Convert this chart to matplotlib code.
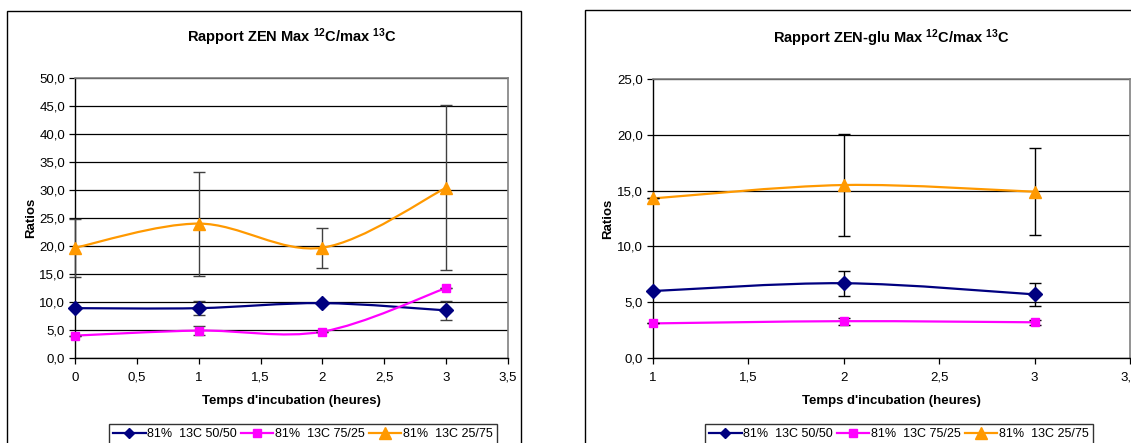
import matplotlib
matplotlib.use("Agg")
import matplotlib.pyplot as plt
import numpy as np
from matplotlib.path import Path
from matplotlib.patches import PathPatch, Rectangle
from matplotlib.lines import Line2D
from matplotlib.ticker import FuncFormatter, MultipleLocator

plt.rcParams['font.family'] = ['Liberation Sans', 'DejaVu Sans']

# ---- data ----
series_labels = ["81%  13C 50/50", "81%  13C 75/25", "81%  13C 25/75"]
colors = ["#000080", "#FF00FF", "#FF9900"]
markers = ["D", "s", "^"]

# Left chart: ZEN
zen_x = [0, 1, 2, 3]
zen_5050 = [8.9, 8.9, 9.8, 8.5]
zen_5050_err = [0.0, 1.2, 0.0, 1.7]
zen_7525 = [4.0, 4.9, 4.7, 12.5]
zen_7525_err = [0.0, 0.8, 0.0, 0.0]
zen_2575 = [19.7, 24.0, 19.7, 30.4]
zen_2575_err = [5.2, 9.3, 3.6, 14.7]

# Right chart: ZEN-glu
glu_x = [1, 2, 3]
glu_5050 = [6.0, 6.7, 5.7]
glu_5050_err = [0.0, 1.1, 1.0]
glu_7525 = [3.1, 3.3, 3.2]
glu_7525_err = [0.0, 0.3, 0.2]
glu_2575 = [14.3, 15.5, 14.9]
glu_2575_err = [0.0, 4.6, 3.9]

W, H = 1131, 443
fig = plt.figure(figsize=(W / 100, H / 100), dpi=100)


def smooth_path(x, y):
    pts = np.column_stack([x, y]).astype(float)
    n = len(pts)
    verts = [pts[0]]
    codes = [Path.MOVETO]
    for i in range(n - 1):
        p0 = pts[i - 1] if i > 0 else pts[i]
        p1 = pts[i]
        p2 = pts[i + 1]
        p3 = pts[i + 2] if i + 2 < n else pts[i + 1]
        c1 = p1 + (p2 - p0) / 6.0
        c2 = p2 - (p3 - p1) / 6.0
        verts += [c1, c2, p2]
        codes += [Path.CURVE4] * 3
    return Path(verts, codes)


fmt = FuncFormatter(lambda v, p: f"{v:.1f}".replace(".", ","))
fmtx = FuncFormatter(lambda v, p: (f"{v:g}").replace(".", ","))


def make_axes(rect, title, xlim, ylim, ystep, x, sets, errcolor):
    ax = fig.add_axes(rect)
    ax.set_xlim(*xlim)
    ax.set_ylim(*ylim)
    ax.yaxis.set_major_locator(MultipleLocator(ystep))
    ax.xaxis.set_major_locator(MultipleLocator(0.5))
    ax.yaxis.set_major_formatter(fmt)
    ax.xaxis.set_major_formatter(fmtx)
    ax.grid(axis='y', color='black', linewidth=0.9)
    ax.set_axisbelow(True)
    for s in ['top', 'right']:
        ax.spines[s].set_color('#808080')
        ax.spines[s].set_linewidth(1.2)
    for s in ['left', 'bottom']:
        ax.spines[s].set_color('black')
        ax.spines[s].set_linewidth(1.0)
    ax.tick_params(direction='out', length=4, width=0.9, labelsize=9.5, pad=3)
    ax.tick_params(axis='x', pad=6)
    ax.set_xlabel("Temps d'incubation (heures)", fontsize=9.5, fontweight='bold', labelpad=8)
    ax.set_ylabel("Ratios", fontsize=9.5, fontweight='bold', labelpad=2)
    ax.set_title(title, fontsize=10.5, fontweight='bold', pad=26)
    for (yv, ye), c, m in zip(sets, colors, markers):
        ax.add_patch(PathPatch(smooth_path(x, yv), fill=False, edgecolor=c, lw=1.6,
                               zorder=3, clip_on=False))
        ax.errorbar(x, yv, yerr=ye, fmt='none', ecolor=errcolor, elinewidth=1.0,
                    capsize=4, capthick=1.0, zorder=4, clip_on=False)
        ms = 7 if m == 'D' else (5.5 if m == 's' else 8.5)
        ax.plot(x, yv, linestyle='none', marker=m, color=c, markersize=ms,
                zorder=5, clip_on=False)
    return ax


axL = make_axes([75 / W, 1 - 358 / H, 433 / W, 280 / H],
                r"Rapport ZEN Max $\mathregular{^{12}}$C/max $\mathregular{^{13}}$C",
                (0, 3.5), (0, 50), 5, zen_x,
                [(zen_5050, zen_5050_err), (zen_7525, zen_7525_err), (zen_2575, zen_2575_err)],
                '#404040')
axR = make_axes([653 / W, 1 - 358 / H, 477 / W, 279 / H],
                r"Rapport ZEN-glu Max $\mathregular{^{12}}$C/max $\mathregular{^{13}}$C",
                (1, 3.5), (0, 25), 5, glu_x,
                [(glu_5050, glu_5050_err), (glu_7525, glu_7525_err), (glu_2575, glu_2575_err)],
                'black')

# outer chart frames
fig.patches.append(Rectangle((7 / W, -0.05), 514 / W, 1.05 - 11 / H,
                             transform=fig.transFigure, fill=False,
                             edgecolor='black', lw=1.0))
fig.patches.append(Rectangle((585 / W, -0.05), 600 / W, 1.05 - 10 / H,
                             transform=fig.transFigure, fill=False,
                             edgecolor='black', lw=1.0))

# legends
handles = [Line2D([], [], color=c, marker=m, lw=1.6,
                  markersize=(5.5 if m == 'D' else (6 if m == 's' else 8)))
           for c, m in zip(colors, markers)]
for cx in (303 / W, 899 / W):
    leg = fig.legend(handles, series_labels, loc='center', bbox_to_anchor=(cx, 1 - 434 / H),
                     ncol=3, fontsize=9, frameon=True, fancybox=False, handlelength=2.6,
                     handletextpad=0.15, columnspacing=0.3, borderpad=0.3,
                     borderaxespad=0)
    leg.get_frame().set_edgecolor('black')
    leg.get_frame().set_linewidth(1.0)

fig.savefig("out.png", dpi=100)
